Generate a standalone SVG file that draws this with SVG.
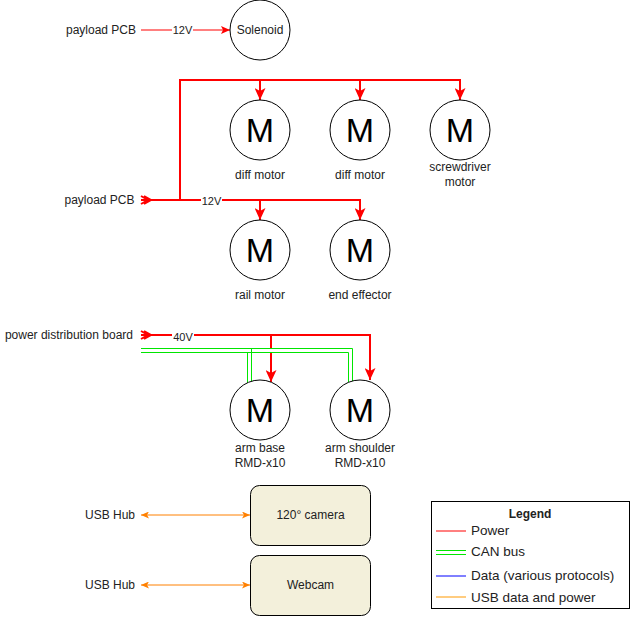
<svg xmlns="http://www.w3.org/2000/svg" width="631" height="624" viewBox="0 0 631 624">
<defs>
<style>
text{font-family:"Liberation Sans",Arial,Helvetica,sans-serif;fill:#222;}
.lbl{font-size:12px;}
.el{font-size:11px;text-anchor:middle;}
.mid{text-anchor:middle;}
.end{text-anchor:end;}
.M{font-size:34px;text-anchor:middle;fill:#000;}
.motor{fill:#fff;stroke:#000;stroke-width:1;}
.pw{fill:none;stroke:#ff0000;stroke-width:2;}
.pw1{fill:none;stroke:#ff0000;stroke-width:1;}
.can{fill:none;stroke:#00e600;stroke-width:1;}
.usb{fill:none;stroke:#ff8000;stroke-width:1;}
.cam{fill:#f3f0db;stroke:#000;stroke-width:1;}
.lg{font-size:13.5px;}
</style>
<marker id="ar" markerUnits="userSpaceOnUse" markerWidth="12" markerHeight="11" refX="12" refY="5.5" orient="auto"><path d="M0,0 L12,5.5 L0,11 L3,5.5 Z" fill="#ff0000"/></marker>
<marker id="as" markerUnits="userSpaceOnUse" markerWidth="9" markerHeight="8" refX="9" refY="4" orient="auto"><path d="M0,0 L9,4 L0,8 L2,4 Z" fill="#ff0000"/></marker>
<marker id="ao" markerUnits="userSpaceOnUse" markerWidth="8" markerHeight="7" refX="8" refY="3.5" orient="auto-start-reverse"><path d="M0,0 L8,3.5 L0,7 L2,3.5 Z" fill="#ff8000"/></marker>
</defs>
<rect width="631" height="624" fill="#fff"/>

<g id="connectors">
  <!-- solenoid -->
  <path class="pw1" d="M141,30 H230" marker-end="url(#as)"/>
  <rect x="172" y="24" width="21" height="12" fill="#fff"/>
  <text class="el" x="182.5" y="34">12V</text>
  <!-- payload PCB 12V bus -->
  <path class="pw" d="M141,200 H180 V80 H460 V100" marker-end="url(#ar)"/>
  <path class="pw" d="M260,80 V100" marker-end="url(#ar)"/>
  <path class="pw" d="M360,80 V100" marker-end="url(#ar)"/>
  <path class="pw" d="M141,200 H360 V220" marker-end="url(#ar)"/>
  <path class="pw" d="M260,200 V220" marker-end="url(#ar)"/>
  <path class="pw" d="M141,196 L148,200 L141,204 M144,196 L151,200 L144,204"/>
  <rect x="201" y="194" width="21" height="12" fill="#fff"/>
  <text class="el" x="211.5" y="205">12V</text>
  <!-- 40V -->
  <path class="pw" d="M141,335 H370 V380" marker-end="url(#ar)"/>
  <path class="pw" d="M271,335 V382" marker-end="url(#ar)"/>
  <path class="pw" d="M141,331 L148,335 L141,339 M144,331 L151,335 L144,339"/>
  <rect x="172" y="330" width="22" height="11" fill="#fff"/>
  <text class="el" x="183" y="341">40V</text>
  <!-- CAN bus -->
  <rect x="266" y="349" width="10" height="3" fill="#fff"/>
  <path class="can" d="M141,348.5 H251.5 V382"/>
  <path class="can" d="M141,352.5 H247.5 V383"/>
  <path class="can" d="M141,348.5 H352.5 V382"/>
  <path class="can" d="M141,352.5 H348.5 V383"/>
  <!-- USB -->
  <path class="usb" d="M141,515 H250" marker-start="url(#ao)" marker-end="url(#ao)"/>
  <path class="usb" d="M141,585 H250" marker-start="url(#ao)" marker-end="url(#ao)"/>
</g>

<g id="payload-pcb-1"><text class="lbl end" x="136" y="34">payload PCB</text></g>
<g id="solenoid"><circle class="motor" cx="260" cy="30" r="30"/><text class="lbl mid" x="260" y="34">Solenoid</text></g>

<g id="payload-pcb-2"><text class="lbl end" x="134.5" y="204">payload PCB</text></g>
<g id="diff-motor-1"><circle class="motor" cx="260" cy="130" r="30"/><text class="M" x="260" y="142">M</text><text class="lbl mid" x="260" y="179">diff motor</text></g>
<g id="diff-motor-2"><circle class="motor" cx="360" cy="130" r="30"/><text class="M" x="360" y="142">M</text><text class="lbl mid" x="360" y="179">diff motor</text></g>
<g id="screwdriver-motor"><circle class="motor" cx="460" cy="130" r="30"/><text class="M" x="460" y="142">M</text><text class="lbl mid" x="460" y="171">screwdriver</text><text class="lbl mid" x="460" y="186">motor</text></g>
<g id="rail-motor"><circle class="motor" cx="260" cy="250" r="30"/><text class="M" x="260" y="262">M</text><text class="lbl mid" x="260" y="299">rail motor</text></g>
<g id="end-effector"><circle class="motor" cx="360" cy="250" r="30"/><text class="M" x="360" y="262">M</text><text class="lbl mid" x="360" y="299">end effector</text></g>

<g id="power-distribution-board"><text class="lbl end" x="133" y="339">power distribution board</text></g>
<g id="arm-base"><circle class="motor" cx="260" cy="410" r="30"/><text class="M" x="260" y="422">M</text><text class="lbl mid" x="260" y="452">arm base</text><text class="lbl mid" x="260" y="467">RMD-x10</text></g>
<g id="arm-shoulder"><circle class="motor" cx="360" cy="410" r="30"/><text class="M" x="360" y="422">M</text><text class="lbl mid" x="360" y="452">arm shoulder</text><text class="lbl mid" x="360" y="467">RMD-x10</text></g>

<g id="usb-hub-1"><text class="lbl mid" x="110" y="519">USB Hub</text></g>
<g id="camera-120"><rect class="cam" x="250.5" y="485.5" width="120" height="60" rx="9"/><text class="lbl mid" x="310.5" y="519">120° camera</text></g>
<g id="usb-hub-2"><text class="lbl mid" x="110" y="589">USB Hub</text></g>
<g id="webcam"><rect class="cam" x="250.5" y="555.5" width="120" height="60" rx="9"/><text class="lbl mid" x="310.5" y="589">Webcam</text></g>

<g id="legend">
  <rect x="431.5" y="501.5" width="198" height="107" fill="#fff" stroke="#000" stroke-width="1"/>
  <text class="mid" x="530" y="518" font-size="12" font-weight="bold">Legend</text>
  <path d="M436,531 H466" stroke="#ff0000" stroke-width="1"/>
  <text class="lg" x="471" y="535">Power</text>
  <path d="M436,550.5 H466 M436,554.5 H466" stroke="#00e600" stroke-width="1"/>
  <text class="lg" x="471" y="556">CAN bus</text>
  <path d="M436,576 H466" stroke="#0000ff" stroke-width="1"/>
  <text class="lg" x="471" y="580">Data (various protocols)</text>
  <path d="M436,597 H466" stroke="#ff9900" stroke-width="1"/>
  <text class="lg" x="471" y="602">USB data and power</text>
</g>
</svg>
